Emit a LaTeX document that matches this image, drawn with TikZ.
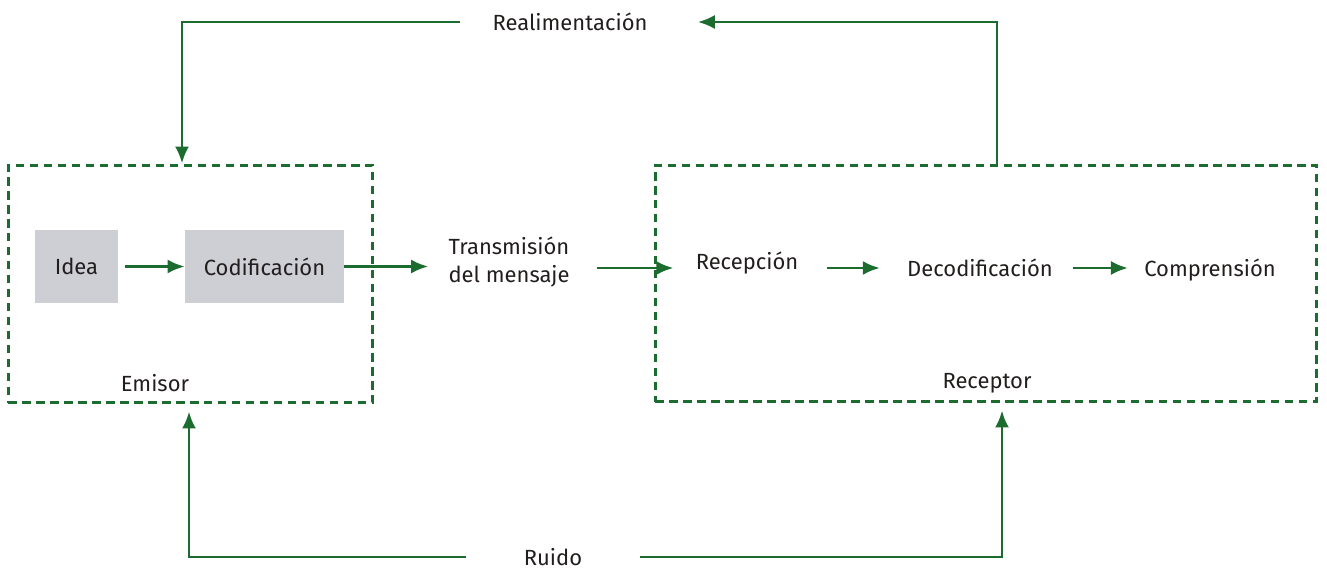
\documentclass[tikz,border=0pt]{standalone}
\usepackage{fontspec}
\setmainfont{Fira Sans}
\usetikzlibrary{arrows.meta,positioning}

\definecolor{verde}{RGB}{28,108,48}
\definecolor{gris}{RGB}{206,206,213}
\definecolor{tinta}{RGB}{35,30,30}

\tikzset{
  etiqueta/.style={text=tinta, font=\fontsize{12.5}{15.5}\selectfont, inner sep=0pt},
  bloque/.style={etiqueta, fill=gris, minimum height=1.46cm},
  marco/.style={draw=verde, line width=1.7pt, dash pattern=on 0.17cm off 0.11cm, inner sep=0pt},
  flujo/.style={draw=verde, line width=1.6pt, -{Latex[length=0.34cm,width=0.28cm]}},
}

\begin{document}
\begin{tikzpicture}[x=0.02cm, y=-0.02cm]

    \useasboundingbox (0,0) rectangle (1327,570);

    %Marcos
    \node[marco, minimum width=7.3cm, minimum height=4.76cm] (emisorbox) at (190.5,284) {}; %Emisor
    \node[marco, minimum width=13.24cm, minimum height=4.74cm] (receptorbox) at (986,283.5) {}; %Receptor

    %Emisor
    \node[bloque, minimum width=1.66cm] (idea) at (76.5,266.5) {Idea};
    \node[bloque, minimum width=3.18cm] (codif) at (264.5,266.5) {Codificación};
    \node[etiqueta] (emisor) at (155,383) {Emisor};

    %Canal
    \node[etiqueta, align=center] (trans) at (509,262) {Transmisión\\del mensaje};

    %Receptor
    \node[etiqueta] (recep) at (747,263) {Recepción};
    \node[etiqueta] (decod) at (980,268) {Decodificación};
    \node[etiqueta] (compr) at (1210,270) {Comprensión};
    \node[etiqueta] (receptor) at (987,383) {Receptor};

    %Realimentacion y ruido
    \node[etiqueta] (realim) at (570,22) {Realimentación};
    \node[etiqueta] (ruido) at (553,557) {Ruido};
    \coordinate (fbizq) at (182,22);
    \coordinate (fbder) at (997,22);
    \coordinate (rdizq) at (189,557);
    \coordinate (rdder) at (1002,557);

    %Flechas horizontales
    \draw[flujo, shorten <=0.14cm] (idea) -- (codif);
    \draw[flujo, shorten >=0.4cm] (codif.east) -- (trans.west |- codif.east);
    \draw[flujo, shorten <=0.54cm, shorten >=0.44cm] (trans.east |- 0,268) -- (recep.west |- 0,268);
    \draw[flujo, shorten <=0.56cm, shorten >=0.54cm] (recep.east |- 0,268) -- (decod.west |- 0,268);
    \draw[flujo, shorten <=0.4cm, shorten >=0.32cm] (decod.east |- 0,268) -- (compr.west |- 0,268);

    %Realimentacion
    \draw[flujo, shorten <=0.64cm] (realim.west) -| (emisorbox.north -| fbizq);
    \draw[flujo, shorten >=1.0cm] (receptorbox.north -| fbder) |- (realim.east);

    %Ruido
    \draw[flujo, shorten <=1.16cm, shorten >=0.14cm] (ruido.west) -| (emisorbox.south -| rdizq);
    \draw[flujo, shorten <=1.16cm, shorten >=0.14cm] (ruido.east) -| (receptorbox.south -| rdder);

\end{tikzpicture}
\end{document}
